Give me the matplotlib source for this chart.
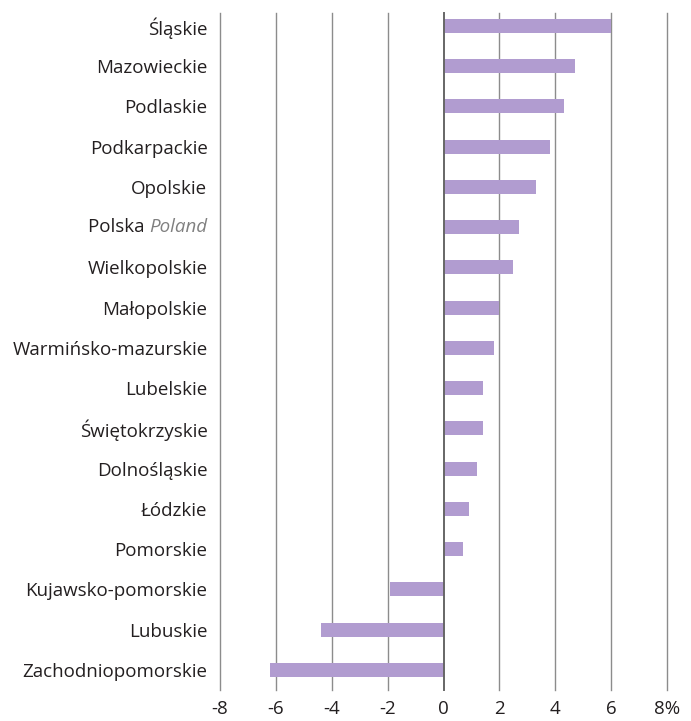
import matplotlib.pyplot as plt

regions = ["Śląskie", "Mazowieckie", "Podlaskie", "Podkarpackie", "Opolskie",
           "Polska", "Wielkopolskie", "Małopolskie", "Warmińsko-mazurskie",
           "Lubelskie", "Świętokrzyskie", "Dolnośląskie", "Łódzkie",
           "Pomorskie", "Kujawsko-pomorskie", "Lubuskie", "Zachodniopomorskie"]
values = [6.0, 4.7, 4.3, 3.8, 3.3, 2.7, 2.5, 2.0, 1.8, 1.4, 1.4, 1.2, 0.9,
          0.7, -1.9, -4.4, -6.2]
xticks = [-8, -6, -4, -2, 0, 2, 4, 6, 8]
xticklabels = ["-8", "-6", "-4", "-2", "0", "2", "4", "6", "8%"]

plt.rcParams['font.family'] = ['Open Sans', 'DejaVu Sans']
text_color = "#231f20"
fs = 13.5

fig = plt.figure(figsize=(6.91, 7.21), dpi=100)
ax = fig.add_axes([220 / 691, 31 / 721, 447 / 691, 677 / 721])

y = list(range(len(regions)))
ax.barh(y, values, height=0.35, color="#b19cd0", zorder=3)

ax.set_xlim(-8, 8)
ax.set_ylim(len(regions) - 0.5, -0.32)
ax.set_xticks(xticks)
ax.set_xticklabels(xticklabels)
ax.set_yticks(y)
labels = list(regions)
labels[regions.index("Polska")] = ""
ax.set_yticklabels(labels)

for x in xticks:
    ax.axvline(x, color="#666666" if x == 0 else "#8c8c8c",
               lw=1.4 if x == 0 else 1.0, zorder=4 if x == 0 else 2,
               clip_on=False)

for s in ax.spines.values():
    s.set_visible(False)
ax.tick_params(axis="both", length=0, labelsize=fs, colors=text_color)
ax.tick_params(axis="y", pad=9)
ax.tick_params(axis="x", pad=7)

# "Polska Poland" label, English part in grey italic
iy = regions.index("Polska")
poland = ax.annotate("Poland", xy=(0, iy), xycoords=("axes fraction", "data"),
                     xytext=(-9, 0), textcoords="offset points",
                     ha="right", va="center", fontsize=fs, style="italic",
                     color="#808080")
ax.annotate("Polska ", xy=(0, 0.5), xycoords=poland, ha="right", va="center",
            fontsize=fs, color=text_color)

fig.savefig("out.png", dpi=100)
